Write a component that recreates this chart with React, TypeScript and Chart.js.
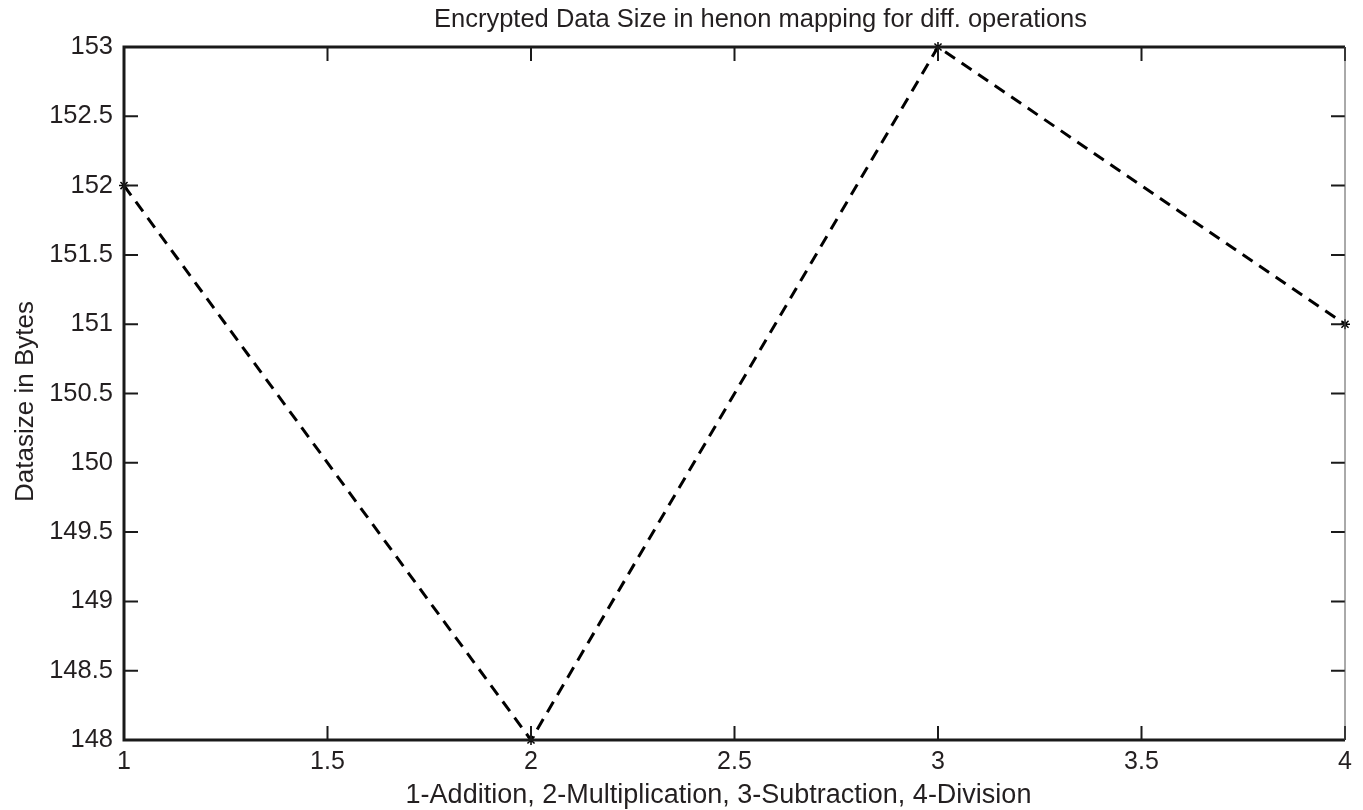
import React, { useEffect, useRef } from "react";
import { Chart, registerables } from "chart.js";

Chart.register(...registerables);

const operations = [1, 2, 3, 4];
const dataSizes = [152, 148, 153, 151];
const xTicks = [1, 1.5, 2, 2.5, 3, 3.5, 4];
const yTicks = [148, 148.5, 149, 149.5, 150, 150.5, 151, 151.5, 152, 152.5, 153];

const titleText = "Encrypted Data Size in henon mapping for diff. operations";
const xLabel = "1-Addition, 2-Multiplication, 3-Subtraction, 4-Division";
const yLabel = "Datasize in Bytes";

const TEXT = "#231f20";
const FONT = "Arial, 'Liberation Sans', Helvetica, sans-serif";

const framePlugin = {
  id: "matlabFrame",
  afterDatasetsDraw(chart: any) {
    const { ctx, chartArea } = chart;
    const { left, right, top, bottom } = chartArea;
    const xs = chart.scales.x;
    const ys = chart.scales.y;
    const tl = 14;
    ctx.save();
    ctx.strokeStyle = "#1a1a1a";
    ctx.lineWidth = 2;
    ctx.beginPath();
    xTicks.forEach((v) => {
      const px = xs.getPixelForValue(v);
      ctx.moveTo(px, bottom);
      ctx.lineTo(px, bottom - tl);
      ctx.moveTo(px, top);
      ctx.lineTo(px, top + tl);
    });
    yTicks.forEach((v) => {
      const py = ys.getPixelForValue(v);
      ctx.moveTo(left, py);
      ctx.lineTo(left + tl, py);
      ctx.moveTo(right, py);
      ctx.lineTo(right - tl, py);
    });
    ctx.stroke();
    ctx.lineWidth = 3;
    ctx.strokeStyle = "#1a1a1a";
    ctx.beginPath();
    ctx.moveTo(right, top);
    ctx.lineTo(left, top);
    ctx.lineTo(left, bottom);
    ctx.lineTo(right, bottom);
    ctx.stroke();
    ctx.lineWidth = 1;
    ctx.strokeStyle = "#555";
    ctx.beginPath();
    ctx.moveTo(right, top);
    ctx.lineTo(right, bottom);
    ctx.stroke();
    ctx.restore();
  },
  afterDraw(chart: any) {
    const { ctx, chartArea } = chart;
    const { left, right, top, bottom } = chartArea;
    ctx.save();
    ctx.fillStyle = TEXT;
    ctx.textAlign = "center";
    ctx.textBaseline = "alphabetic";
    // title
    ctx.font = `25.5px ${FONT}`;
    ctx.fillText(titleText, (left + right) / 2 + 26, top - 20.5);
    // x label
    ctx.font = `27px ${FONT}`;
    ctx.fillText(xLabel, (left + right) / 2 - 16, bottom + 63);
    // y label
    ctx.font = `26px ${FONT}`;
    ctx.translate(left - 91, (top + bottom) / 2 + 8);
    ctx.rotate(-Math.PI / 2);
    ctx.fillText(yLabel, 0, 0);
    ctx.restore();
  },
};

export default function App() {
  const ref = useRef<HTMLCanvasElement | null>(null);

  useEffect(() => {
    if (!ref.current) return;
    const chart = new Chart(ref.current, {
      type: "line",
      data: {
        datasets: [
          {
            data: operations.map((x, i) => ({ x, y: dataSizes[i] })),
            borderColor: "#000",
            borderWidth: 3,
            borderDash: [12, 8],
            pointStyle: "star",
            pointRadius: 5,
            pointBorderWidth: 1.5,
            pointBorderColor: "#000",
            pointBackgroundColor: "#000",
            fill: false,
            tension: 0,
            clip: false as any,
          },
        ],
      },
      options: {
        animation: false,
        responsive: false,
        maintainAspectRatio: false,
        layout: { padding: { top: 47, left: 0, right: 18, bottom: 0 } },
        plugins: {
          legend: { display: false },
          tooltip: { enabled: false },
          title: { display: false },
        },
        scales: {
          x: {
            type: "linear",
            min: 1,
            max: 4,
            afterBuildTicks: (scale: any) => {
              scale.ticks = xTicks.map((v) => ({ value: v }));
            },
            afterFit: (scale: any) => {
              scale.height = 70;
            },
            grid: { display: false, drawTicks: false },
            border: { display: false },
            ticks: {
              color: TEXT,
              font: { family: FONT, size: 25 },
              padding: 7,
              maxRotation: 0,
              autoSkip: false,
              callback: (v: any) => String(v),
            },
            title: { display: false },
          },
          y: {
            type: "linear",
            min: 148,
            max: 153,
            afterBuildTicks: (scale: any) => {
              scale.ticks = yTicks.map((v) => ({ value: v }));
            },
            afterFit: (scale: any) => {
              scale.width = 124;
            },
            grid: { display: false, drawTicks: false },
            border: { display: false },
            ticks: {
              color: TEXT,
              font: { family: FONT, size: 25.5 },
              padding: 11,
              autoSkip: false,
              callback: (v: any) => String(v),
            },
            title: { display: false },
          },
        },
      },
      plugins: [framePlugin],
    });
    return () => chart.destroy();
  }, []);

  return (
    <div style={{ position: "fixed", left: 0, top: 0, width: 1363, height: 810, background: "#fff" }}>
      <canvas ref={ref} width={1363} height={810} style={{ display: "block" }} />
    </div>
  );
}
